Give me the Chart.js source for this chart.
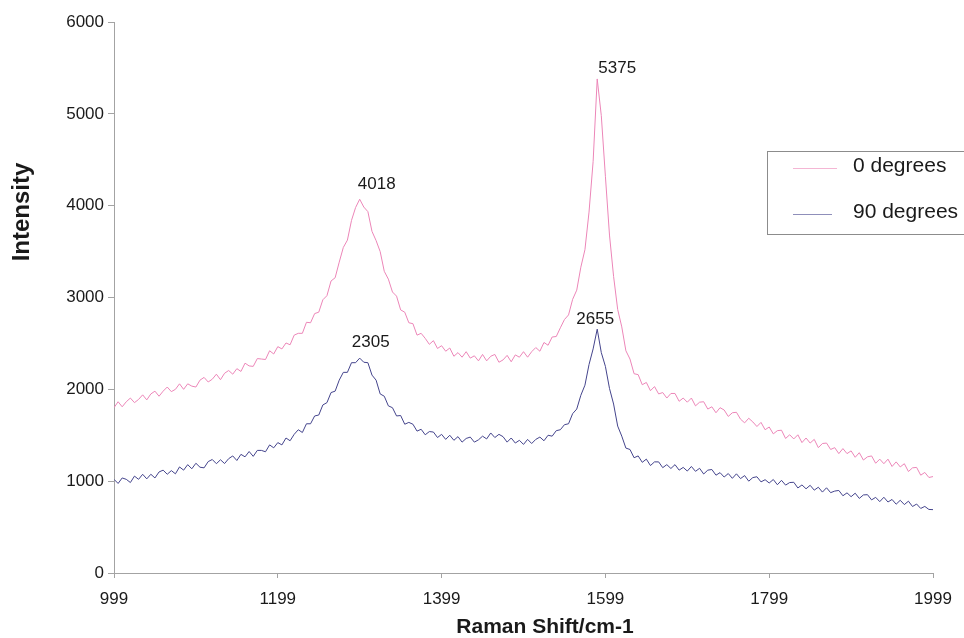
<!DOCTYPE html>
<html>
<head>
<meta charset="utf-8">
<title>Raman Shift</title>
<script src="https://cdn.jsdelivr.net/npm/chart.js@4.4.0/dist/chart.umd.min.js"></script>
<style>
  html, body { margin: 0; padding: 0; background: #fff; }
  canvas { display: block; }
</style>
</head>
<body>
<canvas id="ramanChart" width="964" height="638"></canvas>
<script>
// Spectrum sampled every 5 cm-1 from 999 to 1999
const shiftStart = 999
const shiftStep = 5
const xTicks = [999, 1199, 1399, 1599, 1799, 1999]

const zeroDegrees = [
  1800, 1865, 1810, 1865, 1905, 1855, 1890, 1940, 1885, 1950,
  1980, 1925, 1980, 2025, 1975, 2000, 2060, 2000, 2060, 2035,
  2025, 2100, 2130, 2080, 2110, 2165, 2105, 2175, 2205, 2165,
  2225, 2195, 2285, 2255, 2250, 2335, 2330, 2325, 2420, 2385,
  2465, 2440, 2505, 2485, 2590, 2610, 2610, 2730, 2725, 2825,
  2840, 2975, 3020, 3180, 3215, 3385, 3545, 3625, 3840, 3980,
  4070, 3985, 3935, 3720, 3620, 3500, 3285, 3200, 3060, 3015,
  2865, 2840, 2725, 2715, 2590, 2610, 2555, 2490, 2530, 2445,
  2475, 2415, 2450, 2360, 2400, 2350, 2410, 2340, 2365, 2310,
  2380, 2310, 2360, 2380, 2295, 2320, 2370, 2300, 2375, 2350,
  2410, 2350, 2410, 2455, 2415, 2510, 2480, 2570, 2575, 2670,
  2760, 2810, 2980, 3080, 3330, 3520, 3930, 4480, 5380, 4980,
  4320, 3680, 3230, 2870, 2680, 2420, 2330, 2170, 2160, 2050,
  2075, 1985, 2030, 1950, 1965, 1905, 1955, 1955, 1870, 1905,
  1860, 1905, 1820, 1860, 1865, 1785, 1810, 1745, 1800, 1775,
  1705, 1745, 1750, 1675, 1635, 1685, 1645, 1595, 1640, 1560,
  1590, 1515, 1550, 1555, 1465, 1505, 1460, 1505, 1420, 1470,
  1415, 1455, 1365, 1410, 1415, 1345, 1365, 1300, 1355, 1300,
  1330, 1260, 1310, 1230, 1265, 1275, 1195, 1240, 1190, 1240,
  1160, 1210, 1155, 1190, 1105, 1145, 1150, 1065, 1095, 1040,
  1050
]

const ninetyDegrees = [
  1020, 975, 1035, 1020, 985, 1055, 1020, 1075, 1025, 1075,
  1035, 1100, 1120, 1075, 1115, 1080, 1155, 1120, 1180, 1135,
  1195, 1152, 1145, 1213, 1236, 1190, 1233, 1192, 1245, 1275,
  1225, 1292, 1265, 1323, 1270, 1335, 1335, 1320, 1395, 1363,
  1420, 1395, 1470, 1440, 1510, 1560, 1530, 1625, 1625, 1710,
  1720, 1830, 1855, 1965, 1980, 2100, 2185, 2185, 2290, 2290,
  2340, 2295, 2290, 2155, 2100, 1950, 1925, 1820, 1800, 1710,
  1715, 1620, 1640, 1620, 1545, 1565, 1505, 1540, 1535, 1475,
  1510, 1455, 1500, 1445, 1485, 1425, 1465, 1480, 1425, 1450,
  1490, 1460, 1525, 1475, 1510, 1485, 1425, 1470, 1415, 1445,
  1400, 1455, 1410, 1455, 1480, 1440, 1500, 1490, 1550, 1560,
  1615, 1625, 1735, 1785, 1935, 2045, 2270, 2440, 2655, 2400,
  2250, 2010, 1840, 1600, 1490, 1360, 1345, 1255, 1275, 1205,
  1240, 1170, 1210, 1210, 1147, 1180, 1138, 1180, 1120, 1150,
  1110, 1160, 1107, 1140, 1078, 1120, 1127, 1065, 1093, 1045,
  1083, 1031, 1080, 1028, 1061, 1000, 1039, 1048, 992, 1016,
  980, 1018, 961, 1009, 957, 985, 988, 926, 959, 917,
  955, 902, 934, 881, 928, 875, 892, 899, 841, 873,
  831, 869, 812, 850, 853, 796, 824, 777, 825, 773,
  801, 749, 792, 745, 782, 724, 751, 703, 725, 692,
  690
]

const seriesNames = ["0 degrees", "90 degrees"]
const seriesColors = ["#ec86b8", "#44448c"]

// Peak annotations: which series, at which shift, and the printed value
const peakSeries = [0, 0, 1, 1]
const peakShifts = [1299, 1589, 1299, 1589]
const peakLabels = ["4018", "5375", "2305", "2655"]

const xTitle = "Raman Shift/cm-1"
const yTitle = "Intensity"

const FONT = "'Liberation Sans', Arial, Helvetica, sans-serif"

const ramanShift = zeroDegrees.map((_, i) => shiftStart + i * shiftStep)
const toPoints = (values) => values.map((v, i) => ({ x: ramanShift[i], y: v }))

// Peak value labels drawn just above each peak
const peakLabelPlugin = {
  id: "peakLabels",
  afterDatasetsDraw(chart) {
    const offsets = [[17, -15], [20, -11], [11, -16], [-2, -10]]
    const ctx = chart.ctx
    ctx.save()
    ctx.font = "17px " + FONT
    ctx.fillStyle = "#1a1a1a"
    ctx.textAlign = "center"
    ctx.textBaseline = "middle"
    peakLabels.forEach((label, i) => {
      const idx = Math.round((peakShifts[i] - shiftStart) / shiftStep)
      const pt = chart.getDatasetMeta(peakSeries[i]).data[idx]
      ctx.fillText(label, pt.x + offsets[i][0], pt.y + offsets[i][1])
    })
    ctx.restore()
  },
}

// Boxed legend at the right edge, plus the axis titles
const decorPlugin = {
  id: "decor",
  afterDraw(chart) {
    const ctx = chart.ctx
    ctx.save()

    ctx.strokeStyle = "#8c8c8c"
    ctx.lineWidth = 1
    ctx.strokeRect(767.5, 151.5, 220, 83)

    const rows = [168, 214]
    const lineEnds = [837, 832]
    ctx.font = "21px " + FONT
    ctx.textBaseline = "middle"
    ctx.textAlign = "left"
    seriesNames.forEach((name, i) => {
      ctx.strokeStyle = seriesColors[i]
      ctx.globalAlpha = 0.6
      ctx.beginPath()
      ctx.moveTo(793, rows[i] + 0.5)
      ctx.lineTo(lineEnds[i], rows[i] + 0.5)
      ctx.stroke()
      ctx.globalAlpha = 1
      ctx.fillStyle = "#1a1a1a"
      ctx.fillText(name, 853, rows[i] - 2)
    })

    ctx.fillStyle = "#1a1a1a"
    ctx.font = "bold 21px " + FONT
    ctx.textAlign = "center"
    ctx.fillText(xTitle, 545, 627)

    ctx.translate(22, 212)
    ctx.rotate(-Math.PI / 2)
    ctx.font = "bold 24px " + FONT
    ctx.fillText(yTitle, 0, 0)

    ctx.restore()
  },
}

const axisColor = "#a3a3a3"

new Chart(document.getElementById("ramanChart"), {
  type: "line",
  data: {
    datasets: [
      {
        label: seriesNames[0],
        data: toPoints(zeroDegrees),
        borderColor: seriesColors[0],
        borderWidth: 1,
        pointRadius: 0,
        tension: 0,
      },
      {
        label: seriesNames[1],
        data: toPoints(ninetyDegrees),
        borderColor: seriesColors[1],
        borderWidth: 1,
        pointRadius: 0,
        tension: 0,
      },
    ],
  },
  options: {
    responsive: false,
    animation: false,
    layout: { padding: { left: 0, right: 31, top: 22, bottom: 0 } },
    plugins: {
      legend: { display: false },
      tooltip: { enabled: false },
    },
    scales: {
      x: {
        type: "linear",
        min: 999,
        max: 1999,
        afterBuildTicks: (scale) => {
          scale.ticks = xTicks.map((v) => ({ value: v }))
        },
        afterFit: (scale) => {
          scale.height = 65
        },
        grid: { drawOnChartArea: false, drawTicks: true, tickLength: 5, color: axisColor },
        border: { display: true, color: axisColor },
        ticks: {
          color: "#1a1a1a",
          font: { family: FONT, size: 17 },
          padding: 11,
          maxRotation: 0,
          autoSkip: false,
          callback: (v) => String(v),
        },
      },
      y: {
        min: 0,
        max: 6000,
        afterFit: (scale) => {
          scale.width = 114
        },
        grid: { drawOnChartArea: false, drawTicks: true, tickLength: 6, color: axisColor },
        border: { display: true, color: axisColor },
        ticks: {
          stepSize: 1000,
          color: "#1a1a1a",
          font: { family: FONT, size: 17 },
          padding: 4,
          callback: (v) => String(v),
        },
      },
    },
  },
  plugins: [peakLabelPlugin, decorPlugin],
})
</script>
</body>
</html>
